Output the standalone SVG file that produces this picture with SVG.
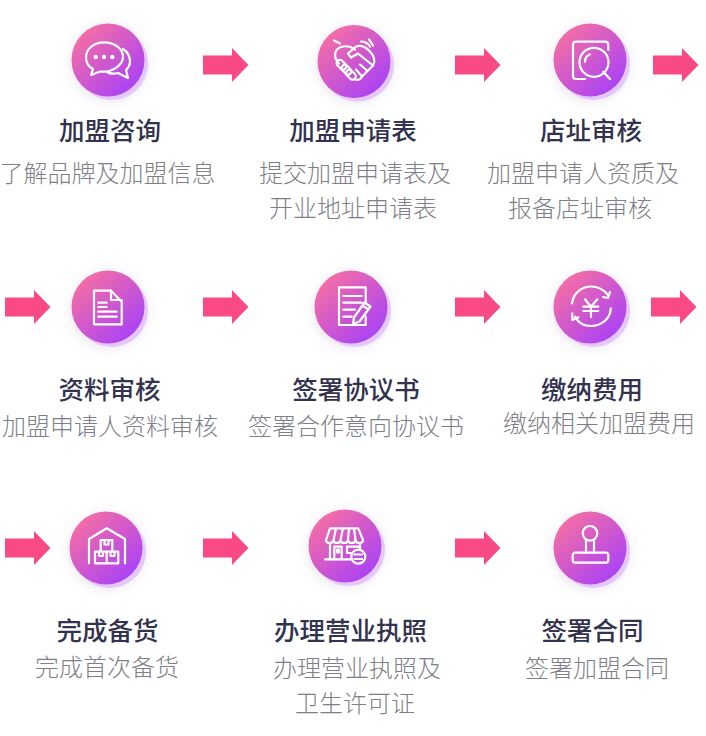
<svg xmlns="http://www.w3.org/2000/svg" width="706" height="736" viewBox="0 0 706 736">
<style>
text{font-family:"Noto Sans CJK SC","Noto Sans",sans-serif;text-anchor:middle}
.t{font-size:25.500px;font-weight:500;fill:#33334f}
.s{font-size:24px;font-weight:300;fill:#7f7f8a}
.i{fill:none;stroke:#fff;stroke-width:2.200;stroke-linecap:round;stroke-linejoin:round}
.f{fill:#fff;stroke:none}
.back{fill:#e4c8fb}
.halo{fill:#8a6aa8;opacity:.2}
.arrow{fill:#f94a85}
</style>
<defs>
<linearGradient id="g" x1="0.12" y1="0.1" x2="0.85" y2="0.9"><stop offset="0" stop-color="#f66fa3"/><stop offset="1" stop-color="#aa42f6"/></linearGradient>
<filter id="b" x="-50%" y="-50%" width="200%" height="200%"><feGaussianBlur stdDeviation="7"/></filter>
<g id="disc"><circle class="halo" cx="1" cy="3" r="37" filter="url(#b)"/><circle class="back" cx="3.500" cy="3.500" r="36.500"/><circle r="36.500" fill="url(#g)"/></g>
<polygon id="ar" class="arrow" points="0,-9.500 29,-9.500 29,-17 45.500,0 29,17 29,9.500 0,9.500"/>
</defs>
<g id="connectors">
<use href="#ar" x="203" y="65"/><use href="#ar" x="455" y="65"/><use href="#ar" x="653" y="65"/>
<use href="#ar" x="5" y="307"/><use href="#ar" x="203" y="307"/><use href="#ar" x="455" y="307"/><use href="#ar" x="651" y="307"/>
<use href="#ar" x="5" y="548"/><use href="#ar" x="203" y="548"/><use href="#ar" x="455" y="548"/>
</g>
<g id="n1"><g transform="translate(108 60)"><use href="#disc"/>
<path class="i" d="M-4,-17.700C-15,-17.700 -22,-10 -22,-3C-22,3 -19,7 -15,9L-17,15L-8,11.500C4,13 15,5 15,-3C15,-11 7,-17.700 -4,-17.700Z"/>
<path class="i" d="M15,-11C20,-8 22,-3 22,2C22,5 20,8 18,10L20,18L10,13C6,14 2,14 -1,12"/>
<circle class="f" cx="-12.300" cy="-3" r="2.200"/><circle class="f" cx="-4" cy="-3" r="2.200"/><circle class="f" cx="4.300" cy="-3" r="2.200"/>
</g><text class="t" x="110" y="140">加盟咨询</text><text class="s" x="107.500" y="182">了解品牌及加盟信息</text></g>
<g id="n2"><g transform="translate(354 61.500)"><use href="#disc"/>
<path class="i" d="M-15,2C-21,-4 -20,-12 -13,-14.500C-8,-16 -3,-15 1,-12"/>
<path class="i" d="M-6,-8L2,-15C7,-17 11,-15 15,-11C20,-6 22,-1 19,4L8,15C7,18 4,19 1,18"/>
<path class="i" d="M-6,-8L-3,-4L4,-8L19,4M13,9L6,3M8,15L2,8"/>
<path class="i" d="M-20,-21L-14,-18M15,-22L19,-16M7,-20C11,-20 14,-18 16,-15"/>
<rect class="i" x="-18" y="0" width="11" height="6.500" rx="3.200" transform="rotate(45 -12.500 3.200)"/>
<rect class="i" x="-13" y="5" width="11" height="6.500" rx="3.200" transform="rotate(45 -7.500 8.200)"/>
<rect class="i" x="-8.500" y="10" width="11" height="6.500" rx="3.200" transform="rotate(45 -3 13.200)"/>
</g><text class="t" x="353" y="140">加盟申请表</text><text class="s" x="355" y="182">提交加盟申请表及</text><text class="s" x="353" y="217">开业地址申请表</text></g>
<g id="n3"><g transform="translate(590 60)"><use href="#disc"/>
<path class="i" d="M-5,19H-14C-16,19 -17,18 -17,16V-15C-17,-17 -16,-18.300 -14,-18.300H15C17,-18.300 18.300,-17 18.300,-15V-10"/>
<circle class="i" cx="4" cy="2.300" r="14.500"/>
<path class="i" d="M-5,1.700C-5,-1.500 -3,-4.500 0,-5.700M13.300,11.700L20,19"/>
</g><text class="t" x="591" y="140">店址审核</text><text class="s" x="583" y="182">加盟申请人资质及</text><text class="s" x="580" y="217">报备店址审核</text></g>
<g id="n4"><g transform="translate(108 307)"><use href="#disc"/>
<path class="i" d="M-14,-16.300H3L13.700,-5.300V17.300H-14Z"/><path class="i" d="M3,-16.300V-7H13.700"/>
<path class="i" d="M-9.700,-4.300H-1.300M-9.700,0H-1.300M-9.700,4.700H8.700M-9.700,9.700H8.700"/>
</g><text class="t" x="109.500" y="399">资料审核</text><text class="s" x="110" y="435">加盟申请人资料审核</text></g>
<g id="n5"><g transform="translate(351 307)"><use href="#disc"/>
<path class="i" d="M14.700,-3.700V-19.700H-12V18H14.700V9.700"/>
<path class="i" d="M-7.700,-11H10.700M-7.700,-4.300H10.700M-7.700,2.700H4M-7.700,9.700H0.700"/>
<path class="i" d="M2,17L3,10.500L13.500,-4.500L19.500,-0.500L8.500,14.500ZM11.500,-1.500L17.500,2.500"/>
</g><text class="t" x="356" y="399">签署协议书</text><text class="s" x="356" y="435">签署合作意向协议书</text></g>
<g id="n6"><g transform="translate(590 307)"><use href="#disc"/>
<path class="i" d="M-18,-3.700C-17,-13 -9,-20.500 1,-20.500C8,-20.500 14,-17 18,-12"/>
<path class="i" d="M20.700,1.300C20.700,11 12,19 1,19C-6,19 -12,15 -15,9.700"/>
<path class="i" d="M20,-15L18,-9L13,-10M-17.700,6.300V13L-11.700,10.300"/>
<path class="i" d="M-5,-7.700L1,-0.300L7.300,-7.700M-6.700,-0.300H8.300M-6.700,4H8.300M1,-0.300V10"/>
</g><text class="t" x="592" y="399">缴纳费用</text><text class="s" x="599" y="432">缴纳相关加盟费用</text></g>
<g id="n7"><g transform="translate(106 548)"><use href="#disc"/>
<path class="i" d="M-17,15.300V-9L0.700,-19.700L19,-9V15.300"/>
<path class="i" d="M-5.300,-8H6.300V3.700H-5.300ZM-11,3.700H0.700V15.300H-11ZM0.700,3.700H12.300V15.300H0.700ZM-1.500,-8V-3.500H2.500V-8M-7,3.700V8H-3V3.700M4.500,3.700V8H8.500V3.700"/>
</g><text class="t" x="107.500" y="640">完成备货</text><text class="s" x="107" y="676">完成首次备货</text></g>
<g id="n8"><g transform="translate(345 546)"><use href="#disc"/>
<path class="i" d="M-15,-17.700H13.300L18,-6C18,-2 11,-2 10.500,-6C10,-2 3.500,-2 3,-6C2.500,-2 -4,-2 -4.500,-6C-5,-2 -11,-2 -11.500,-6C-12,-2 -19,-2 -19,-6ZM-9,-17.700L-11.500,-6M-2,-17.700L-4.500,-6M4,-17.700L3,-6M9,-17.700L10.500,-6"/>
<path class="i" d="M-15,-3V13.300M15,-3V3M-20,13.300H6.500"/>
<path class="i" d="M-10.700,13.300V0.700H-3.300V13.300M-8,3.500H-6V6.500H-8ZM2,0.700H15M2,0.700V7H6"/>
<circle class="i" cx="13.300" cy="10.700" r="7"/><path class="i" d="M9.500,8.500H17M9.500,13H17"/>
</g><text class="t" x="350.500" y="640">办理营业执照</text><text class="s" x="357" y="677">办理营业执照及</text><text class="s" x="355" y="712">卫生许可证</text></g>
<g id="n9"><g transform="translate(590 548)"><use href="#disc"/>
<circle class="i" cx="0" cy="-14.700" r="7.300"/><path class="i" d="M-4,-8V4.700M4,-8V4.700"/><rect class="i" x="-17.300" y="4.700" width="35.600" height="10" rx="2.500"/>
</g><text class="t" x="592.500" y="640">签署合同</text><text class="s" x="597" y="677">签署加盟合同</text></g>
</svg>
